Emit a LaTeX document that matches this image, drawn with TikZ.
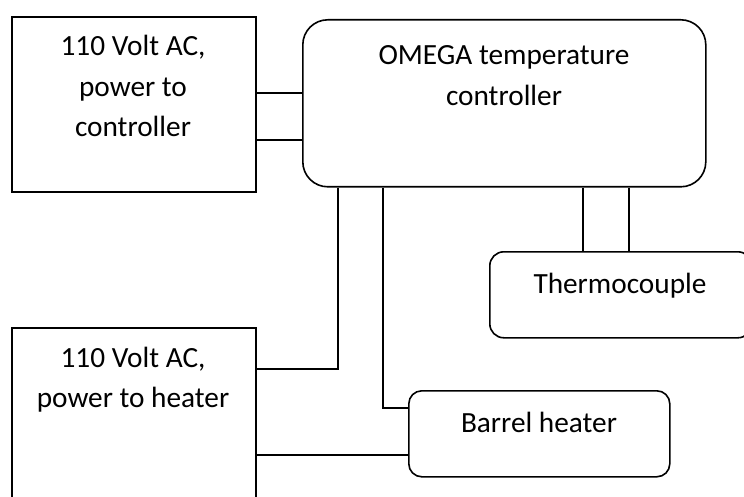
\documentclass[tikz,border=0pt]{standalone}
\usepackage{fontspec}
\setmainfont{Carlito}
\begin{document}
\begin{tikzpicture}[x=1pt,y=-1pt,
  box/.style={draw, line width=1.6pt, inner sep=0pt, anchor=north west},
  txt/.style={anchor=base, inner sep=0pt, font=\fontsize{29.3}{40.5}\selectfont},
  wire/.style={line width=1.6pt}]
\useasboundingbox (0,0) rectangle (744,497);
\clip (0,0) rectangle (744,497);
% boxes
\node[box, minimum width=244pt, minimum height=175pt] (b1) at (11,16) {};
\node[box, rounded corners=25pt, minimum width=403pt, minimum height=167pt] (ctrl) at (302,19) {};
\node[box, rounded corners=14pt, minimum width=262pt, minimum height=86pt] (thermo) at (489,251) {};
\node[box, minimum width=244pt, minimum height=200pt] (b2) at (11,327) {};
\node[box, rounded corners=13pt, minimum width=261pt, minimum height=86pt] (barrel) at (408,390) {};
% texts
\node[txt] (t1) at (133,56) {\parbox[t]{240pt}{\centering 110 Volt AC,\\power to\\controller}};
\node[txt] (t2) at (504,65) {\parbox[t]{390pt}{\centering OMEGA temperature\\controller}};
\node[txt] (t3) at (620,293) {Thermocouple};
\node[txt] (t4) at (133,367) {\parbox[t]{240pt}{\centering 110 Volt AC,\\power to heater}};
\node[txt] (t5) at (539,432) {Barrel heater};
% connectors
\draw[wire] (b1.east |- 0,93) -- (ctrl.west |- 0,93);
\draw[wire] (b1.east |- 0,140) -- (ctrl.west |- 0,140);
\draw[wire] (ctrl.south -| 338,0) |- (b2.east |- 0,369);
\draw[wire] (ctrl.south -| 383,0) |- (barrel.west |- 0,408);
\draw[wire] (b2.east |- 0,455) -- (barrel.west |- 0,455);
\draw[wire] (ctrl.south -| 583,0) -- (thermo.north -| 583,0);
\draw[wire] (ctrl.south -| 629,0) -- (thermo.north -| 629,0);
\end{tikzpicture}
\end{document}
